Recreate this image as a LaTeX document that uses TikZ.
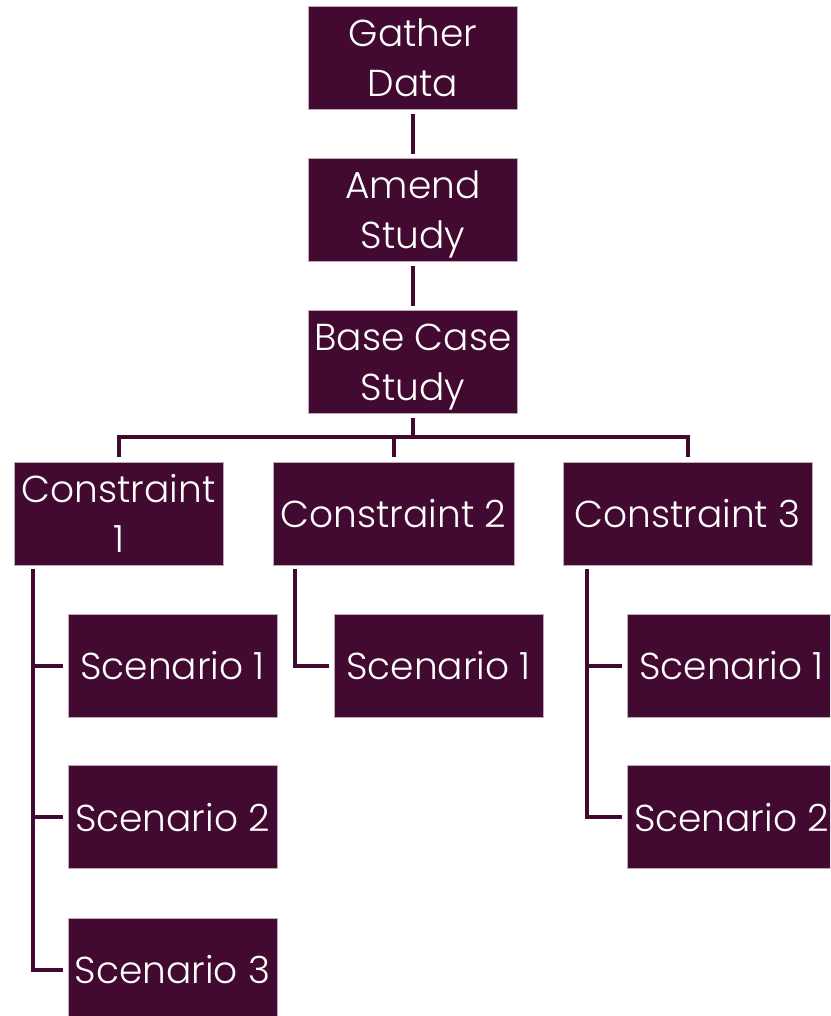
\documentclass[tikz,border=0pt]{standalone}
\usepackage{fontspec}
\setmainfont{Poppins Light}
\definecolor{plum}{RGB}{66,10,48}
\begin{document}
\begin{tikzpicture}[x=1pt,y=-1pt,
  box/.style={fill=plum, draw=plum!35!white, line width=0.6pt, minimum width=209pt, minimum height=103pt,
    inner sep=0pt, text=white, align=center, text depth=0pt, font=\fontsize{37.5}{50}\selectfont},
  link/.style={draw=plum, line width=4pt}]
\useasboundingbox (0,0) rectangle (830,1016);
\clip (0,0) rectangle (830,1016);
\node[box] (gather) at (413,58) {Gather\\Data};
\node[box] (amend) at (413,210) {Amend\\Study};
\node[box] (base) at (413,362) {Base Case\\Study};
\node[box] (c1) at (118.5,513.5) {Constraint\\1};
\node[box, minimum width=241pt] (c2) at (393.5,513.5) {Constraint 2};
\node[box, minimum width=249pt] (c3) at (687.5,513.5) {Constraint 3};
\node[box] (s11) at (172.5,665.5) {Scenario 1};
\node[box] (s12) at (172.5,817) {Scenario 2};
\node[box] (s13) at (172.5,969.5) {Scenario 3};
\node[box] (s21) at (438.5,665.5) {Scenario 1};
\node[box] (s31) at (731.5,665.5) {Scenario 1};
\node[box] (s32) at (731.5,817) {Scenario 2};
\draw[link, shorten <=4pt, shorten >=4pt] (gather.south) -- (amend.north);
\draw[link, shorten <=4pt, shorten >=4pt] (amend.south) -- (base.north);
\coordinate (bus) at (413,437);
\draw[link, shorten <=4pt] (base.south) -- (bus);
\draw[link, shorten >=5pt] (bus) -| (c1.north);
\draw[link, shorten >=5pt] (bus) -| (c2.north);
\draw[link, shorten >=5pt] (bus) -| (c3.north);
\coordinate (t1) at (33,569);
\coordinate (t2) at (295,569);
\coordinate (t3) at (587,569);
\draw[link, shorten >=5pt] (t1) |- (s13.west);
\draw[link, shorten >=5pt] (t1 |- s11.west) -- (s11.west);
\draw[link, shorten >=5pt] (t1 |- s12.west) -- (s12.west);
\draw[link, shorten >=5pt] (t2) |- (s21.west);
\draw[link, shorten >=5pt] (t3) |- (s32.west);
\draw[link, shorten >=5pt] (t3 |- s31.west) -- (s31.west);
\end{tikzpicture}
\end{document}
